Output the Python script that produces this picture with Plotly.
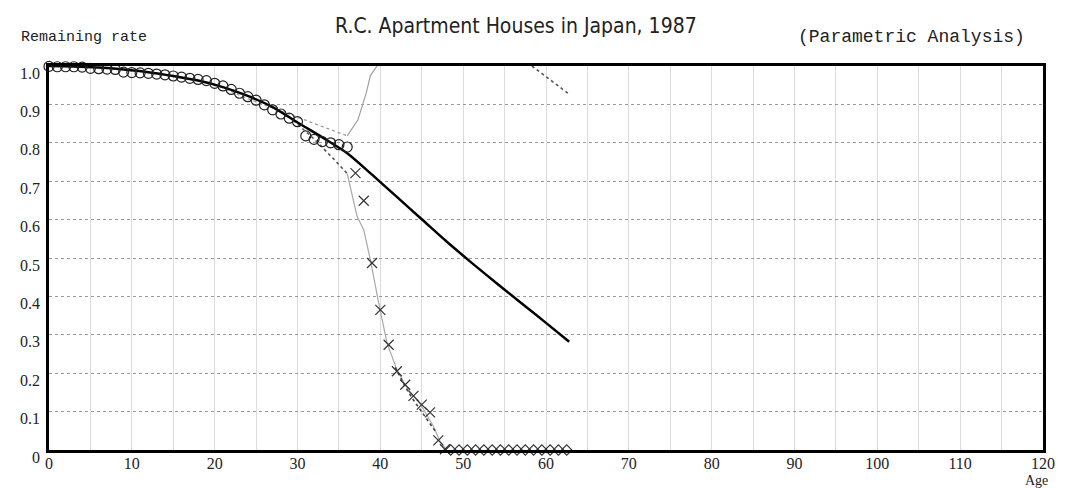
import plotly.graph_objects as go

# ---- data ----
circle_age = list(range(0, 37))
circle_rate = [0.999, 0.998, 0.998, 0.998, 0.997, 0.994, 0.993, 0.992, 0.991, 0.984,
               0.983, 0.982, 0.981, 0.979, 0.977, 0.974, 0.971, 0.968, 0.965, 0.962,
               0.955, 0.948, 0.939, 0.929, 0.920, 0.911, 0.899, 0.886, 0.875, 0.864,
               0.855, 0.818, 0.809, 0.803, 0.800, 0.795, 0.789]

fit_age = [0, 3, 6, 9, 12, 15, 18, 21, 24, 27, 30, 33, 36, 39, 42, 45, 48, 51, 54, 57, 60, 62.8]
fit_rate = [1.000, 0.999, 0.996, 0.991, 0.984, 0.974, 0.962, 0.945, 0.922, 0.893, 0.853,
            0.814, 0.773, 0.717, 0.659, 0.601, 0.543, 0.488, 0.435, 0.383, 0.331, 0.282]

upper_dot_age = [20, 24, 36]
upper_dot_rate = [0.952, 0.915, 0.818]
upper_line_age = [36, 37.3, 38.3, 38.8, 39.6]
upper_line_rate = [0.818, 0.86, 0.93, 0.975, 1.0]

right_dot_age = [58.3, 62.9]
right_dot_rate = [1.0, 0.925]

lower_dot_age = [29.5, 32, 34.4, 36]
lower_dot_rate = [0.858, 0.81, 0.757, 0.72]
lower_line_age = [36, 37.2, 38, 38.8, 39.8, 40.8, 42, 43, 44, 45, 46.4, 47.2, 48]
lower_line_rate = [0.72, 0.608, 0.573, 0.495, 0.383, 0.279, 0.209, 0.17, 0.14, 0.114, 0.062, 0.023, 0.0]
tail_dot_age = [41.8, 43, 44, 45, 46, 46.6]
tail_dot_rate = [0.215, 0.165, 0.13, 0.1, 0.07, 0.05]

cross_age = [37, 38, 39, 40, 41, 42, 43, 44, 45, 46, 47, 47.8]
cross_rate = [0.721, 0.649, 0.487, 0.365, 0.274, 0.205, 0.170, 0.141, 0.118, 0.098, 0.025, 0.002]

zero_age = [48.5, 49.5, 50.5, 51.5, 52.5, 53.5, 54.5, 55.5, 56.5, 57.5, 58.5, 59.5, 60.5, 61.5, 62.5]
zero_rate = [0.0] * len(zero_age)

x_ticks = list(range(0, 121, 10))
y_ticks = [0, 0.1, 0.2, 0.3, 0.4, 0.5, 0.6, 0.7, 0.8, 0.9, 1.0]
y_ticktext = ["0", "0.1", "0.2", "0.3", "0.4", "0.5", "0.6", "0.7", "0.8", "0.9", "1.0"]

fig = go.Figure()

# lines
fig.add_trace(go.Scatter(x=upper_dot_age, y=upper_dot_rate, mode="lines",
                         line=dict(color="#9a9a9a", width=1.3, dash="dot")))
fig.add_trace(go.Scatter(x=upper_line_age, y=upper_line_rate, mode="lines",
                         line=dict(color="#a0a0a0", width=1.2)))
fig.add_trace(go.Scatter(x=right_dot_age, y=right_dot_rate, mode="lines",
                         line=dict(color="#555555", width=1.6, dash="dot")))
fig.add_trace(go.Scatter(x=lower_dot_age, y=lower_dot_rate, mode="lines",
                         line=dict(color="#555555", width=1.6, dash="dot")))
fig.add_trace(go.Scatter(x=lower_line_age, y=lower_line_rate, mode="lines",
                         line=dict(color="#a8a8a8", width=1.2)))
fig.add_trace(go.Scatter(x=tail_dot_age, y=tail_dot_rate, mode="lines",
                         line=dict(color="#444444", width=1.6, dash="dot")))
fig.add_trace(go.Scatter(x=fit_age, y=fit_rate, mode="lines",
                         line=dict(color="black", width=2.5, shape="spline", smoothing=0.8)))

# markers
fig.add_trace(go.Scatter(x=circle_age, y=circle_rate, mode="markers", cliponaxis=False,
                         marker=dict(symbol="circle-open", size=10, color="#222222",
                                     line=dict(width=1.2))))
fig.add_trace(go.Scatter(x=cross_age, y=cross_rate, mode="markers", cliponaxis=False,
                         marker=dict(symbol="x-thin-open", size=10, color="#333333",
                                     line=dict(width=1.2, color="#333333"))))
fig.add_trace(go.Scatter(x=zero_age, y=zero_rate, mode="markers", cliponaxis=False,
                         marker=dict(symbol="diamond-open", size=8, color="#333333",
                                     line=dict(width=1.1))))

tick_font = dict(family="Liberation Serif, DejaVu Serif, serif", size=16, color="#222222")

# page body has an 8px default margin: figure is sized/placed to compensate
fig.update_layout(
    width=1059, height=480,
    margin=dict(l=34, r=21, t=58, b=38),
    paper_bgcolor="white", plot_bgcolor="white",
    showlegend=False,
    xaxis=dict(range=[0, 120], tickvals=x_ticks, ticks="", tickfont=tick_font,
               ticklabelstandoff=-3,
               showgrid=True, gridcolor="#dcdcdc", gridwidth=1,
               minor=dict(dtick=5, showgrid=True, gridcolor="#dcdcdc", gridwidth=1),
               showline=True, linecolor="black", linewidth=2.5, mirror=True,
               zeroline=False, fixedrange=True),
    yaxis=dict(range=[0, 1.0], tickvals=y_ticks, ticktext=y_ticktext, ticks="",
               tickfont=tick_font, ticklabelshift=7, ticklabelstandoff=3,
               showgrid=True, gridcolor="#9a9a9a", gridwidth=1, griddash="dot",
               showline=True, linecolor="black", linewidth=2.5, mirror=True,
               zeroline=False, fixedrange=True),
    annotations=[
        dict(text="R.C. Apartment Houses in Japan, 1987", xref="paper", yref="paper",
             x=0.470, y=1.104, xanchor="center", yanchor="middle", showarrow=False,
             font=dict(family="DejaVu Sans Condensed, Liberation Sans Narrow, Noto Sans, sans-serif",
                       size=21, color="#222222")),
        dict(text="Remaining rate", xref="paper", yref="paper",
             x=-0.0299, y=1.0755, xanchor="left", yanchor="middle", showarrow=False,
             font=dict(family="Liberation Mono, DejaVu Sans Mono, monospace", size=15,
                       color="#222222")),
        dict(text="(Parametric Analysis)", xref="paper", yref="paper",
             x=0.8675, y=1.0755, xanchor="center", yanchor="middle", showarrow=False,
             font=dict(family="Liberation Mono, DejaVu Sans Mono, monospace", size=18,
                       color="#222222")),
        dict(text="Age", xref="paper", yref="paper",
             x=0.993, y=-0.079, xanchor="center", yanchor="middle", showarrow=False,
             font=dict(family="Liberation Serif, DejaVu Serif, serif", size=14,
                       color="#222222")),
    ],
)

fig.write_html("out.html")
